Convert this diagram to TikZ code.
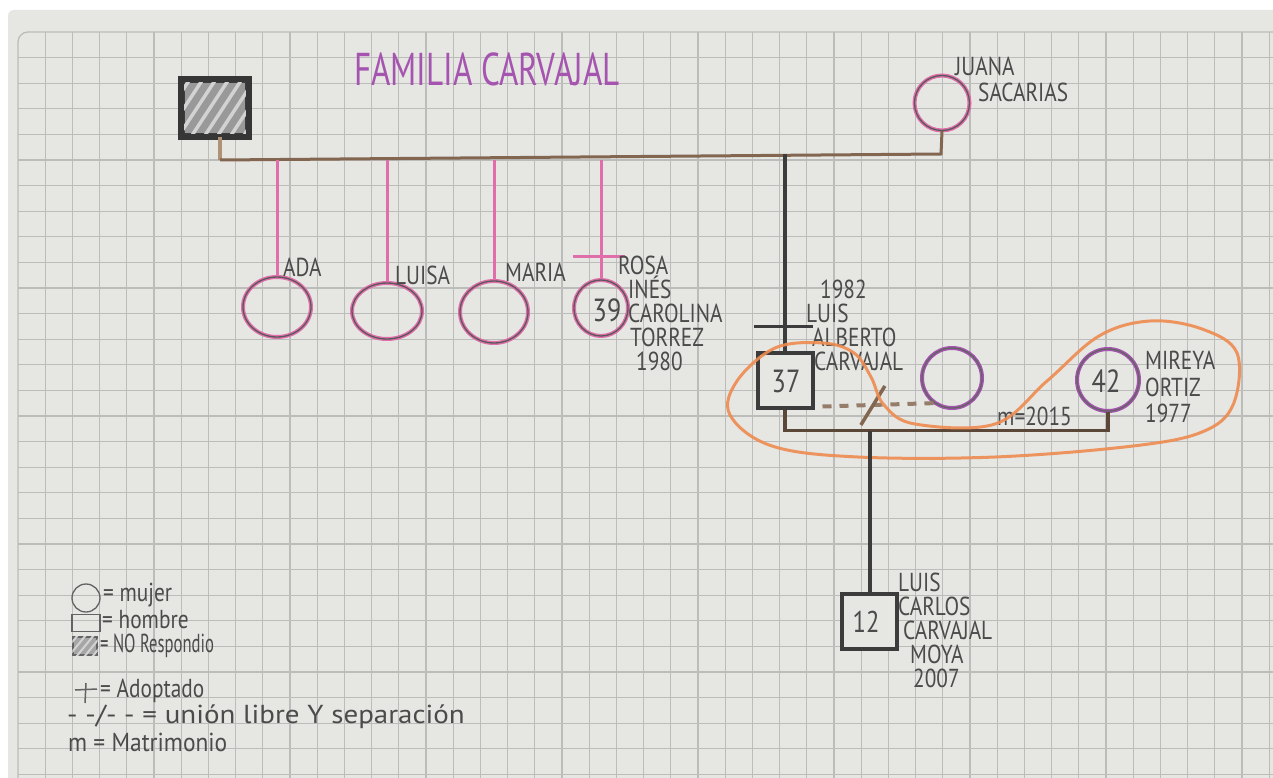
\documentclass[tikz,border=0pt]{standalone}
\usepackage{graphicx}
\usepackage{fontspec}
\setmainfont{PT Sans}
\newfontfamily\hand[FakeStretch=0.82]{PT Sans}
\newfontfamily\handtitle[FakeStretch=0.72]{PT Sans}
\usetikzlibrary{calc,shapes.geometric}
\definecolor{paper}{RGB}{230,230,227}
\definecolor{gridc}{RGB}{188,188,186}
\definecolor{pencil}{RGB}{60,60,60}
\definecolor{txt}{RGB}{75,75,75}
\definecolor{pinkc}{RGB}{224,110,170}
\definecolor{purp}{RGB}{165,85,175}
\definecolor{brownc}{RGB}{130,102,80}
\definecolor{tanc}{RGB}{175,145,118}
\definecolor{orangec}{RGB}{238,140,80}
\tikzset{
  lab/.style={font=\hand\fontsize{26}{24}\selectfont, text=txt, inner sep=0pt, anchor=west, align=left},
  leg/.style={font=\hand\fontsize{26}{26}\selectfont, text=txt, inner sep=0pt, anchor=west},
  numb/.style={font=\hand\fontsize{32}{32}\selectfont, text=txt},
  male/.style={draw=pencil, line width=4, minimum size=55, inner sep=0pt, fill=paper},
  fem/.style={ellipse, draw=pencil!85, line width=1.3, preaction={draw=pinkc, line width=4}, inner sep=0pt},
  femp/.style={ellipse, draw=pencil!80, line width=1.3, preaction={draw=purp, line width=4}, inner sep=0pt},
  pinkline/.style={draw=pinkc, line width=3},
  brownline/.style={draw=brownc, line width=3},
  blackline/.style={draw=pencil, line width=4},
  unionline/.style={draw=brownc!85, line width=4, dash pattern=on 9pt off 8pt},
}
\begin{document}
\begin{tikzpicture}[x=1pt,y=-1pt]
\useasboundingbox (0,0) rectangle (1273,778);
% paper and grid
\fill[white] (0,0) rectangle (1273,778);
\fill[paper, rounded corners=6] (8,10) rectangle (1290,800);
\foreach \k in {1,...,46} \draw[gridc, line width=1.3] ({18+27.2*\k},32) -- ({18+27.2*\k},778);
\foreach \k in {1,...,29} \draw[gridc, line width=1.3] (18,{32+25.6*\k}) -- (1273,{32+25.6*\k});
\draw[gridc, line width=1.3, rounded corners=10] (18,778) -- (18,32) -- (1273,32);

% title
\node[font=\handtitle\fontsize{46}{46}\selectfont, text=purp, inner sep=0pt] (title) at (487,69) {FAMILIA CARVAJAL};

% generation 1
\node[male, minimum width=64, minimum height=54, fill=gray!80] (fa) at (215,108) {};
\begin{scope}
  \clip (fa.south west) rectangle (fa.north east);
  \foreach \o in {150,163,...,250} \draw[gray!35, line width=3.5] (\o,140) -- (\o+42,76);
\end{scope}
\draw[pencil!90!black, line width=6] (fa.south west) rectangle (fa.north east);
\node[fem, minimum size=55] (juana) at (942,103) {};
\node[lab] (juanat) at (955,66) {JUANA};
\node[lab] (sacat) at (978,92) {SACARIAS};

\draw[draw=tanc, line width=4] ($(fa.south)+(5,0)$) -- ++(0,23) coordinate (barL);
\draw[brownline] (barL) -- (941,154) coordinate (barR) -- (juana.south);

% daughters
\node[fem, minimum width=68, minimum height=60] (ada) at (277,307) {};
\node[fem, minimum width=70, minimum height=56] (luisa) at (387,311) {};
\node[fem, minimum width=68, minimum height=62] (maria) at (494,312) {};
\node[fem, minimum width=54, minimum height=56] (rosa) at (601,308) {};
\node[numb] (n39) at (607,310) {39};

\draw[pinkline] (ada.north |- barL) -- (ada.north);
\draw[pinkline] (luisa.north |- barL) -- (luisa.north);
\draw[pinkline] (maria.north |- barL) -- (maria.north);
\draw[pinkline] (rosa.north |- barL) -- (rosa.north);
\draw[pinkline, line width=3.5] ($(rosa.north)+(-28,-23)$) -- ++(52,0);

\node[lab] (adat) at (283,267) {ADA};
\node[lab] (luisat) at (395,275) {LUISA};
\node[lab] (mariat) at (505,272) {MARIA};
\node[lab, anchor=north west] (rosat) at (618,256) {ROSA\\\hspace*{10pt}INÉS\\\hspace*{10pt}CAROLINA\\\hspace*{12pt}TORREZ\\\hspace*{18pt}1980};

% Luis Alberto
\node[male] (luis) at (785,380) {};
\node[numb] (n37) at (786,381) {37};
\draw[blackline] (luis.north |- barR) -- (luis.north);
\draw[blackline, line width=3.5] ($(luis.north)+(-31,-24)$) -- ++(59,0);
\node[lab, anchor=north west] (luist) at (806,280) {\hspace*{14pt}1982\\LUIS\\\hspace*{6pt}ALBERTO\\\hspace*{8pt}CARVAJAL};

% former partner (union libre, separated)
\node[femp, minimum size=60] (ex) at (952,378) {};
\coordinate (u1) at ($(luis.south east)+(8,-3)$);
\draw[unionline] (u1) -- (ex.235);
\path (u1) -- (ex.235) coordinate[pos=0.45] (sep);
\draw[brownc, line width=3.5] ($(sep)+(-12,20)$) -- ($(sep)+(12,-19)$);

% Mireya
\node[femp, minimum size=62] (mireya) at (1108,380) {};
\node[numb] (n42) at (1106,381) {42};
\node[lab, anchor=north west] (mirt) at (1145,351) {MIREYA\\[3pt]ORTIZ\\[2pt]1977};
\draw[draw=brownc!70!black, line width=3.5] (luis.south) -- ++(0,21) coordinate (mL) -| (mireya.south);
\node[lab] (mt) at (997,416) {m=2015};

% orange loop
\draw[orangec, line width=3, opacity=0.9] plot[smooth cycle, tension=0.6] coordinates {
 (737,381) (775,348) (823,343) (854,353) (871,377) (884,405) (915,424) (995,424) (1047,381)
 (1099,336) (1150,321) (1202,329) (1237,353) (1233,405) (1202,432) (1133,446) (995,457)
 (858,457) (772,446) (730,415)};

% son
\node[male] (son) at (869.5,621) {};
\node[numb, font=\hand\fontsize{30}{30}\selectfont] (n12) at (866,622) {12};
\draw[blackline] (son.north |- mL) -- (son.north);
\node[lab, anchor=north west] (sont) at (898,573) {LUIS\\CARLOS\\\hspace*{5pt}CARVAJAL\\\hspace*{12pt}MOYA\\\hspace*{15pt}2007};

% legend
\node[circle, draw=pencil!80, line width=1.3, minimum size=28, inner sep=0pt] (lc) at (86,598) {};
\node[leg] (l1) at (103,595) {= mujer};
\node[rectangle, draw=pencil!80, line width=1.3, minimum width=28, minimum height=17, inner sep=0pt] (ls) at (86,623) {};
\node[leg] (l2) at (102,620) {= hombre};
\node[rectangle, draw=pencil!80, line width=1.3, minimum width=24, minimum height=18, inner sep=0pt, fill=gray!70] (lh) at (85,646) {};
\begin{scope}
  \clip (lh.south west) rectangle (lh.north east);
  \foreach \o in {60,68,...,100} \draw[gray!35, line width=2] (\o,657) -- (\o+18,635);
\end{scope}
\node[leg] (l3) at (100,646) {\scalebox{0.78}[1]{= NO Respondio}};
\coordinate (ad1) at (75,690);
\draw[pencil!80, line width=1.5] (ad1) -- ++(22,-1);
\draw[pencil!80, line width=1.5] (86,683) -- (85,703);
\node[leg] (l4) at (100,691) {= Adoptado};
\node[leg] (l5) at (67,717) {\scalebox{1.36}[1]{- -/- - = unión libre Y separación}};
\node[leg] (l6) at (68,742) {\scalebox{1.1}[1]{m = Matrimonio}};
\end{tikzpicture}
\end{document}
